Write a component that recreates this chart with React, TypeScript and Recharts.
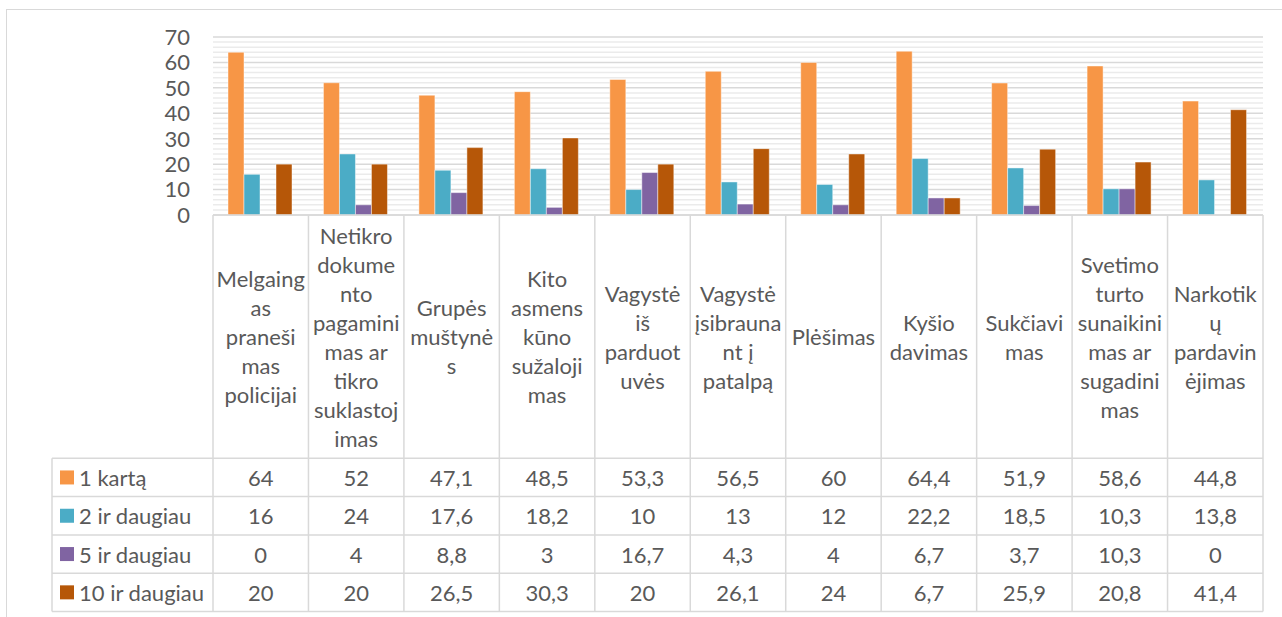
import React from "react";
import { BarChart, Bar, XAxis, YAxis, CartesianGrid } from "recharts";

// category headers, wrapped the way the original table wraps them
const categories = [
  "Melgaing\nas\npraneši\nmas\npolicijai",
  "Netikro\ndokume\nnto\npagamini\nmas ar\ntikro\nsuklastoj\nimas",
  "Grupės\nmuštynė\ns",
  "Kito\nasmens\nkūno\nsužaloji\nmas",
  "Vagystė\niš\nparduot\nuvės",
  "Vagystė\nįsibrauna\nnt į\npatalpą",
  "Plėšimas",
  "Kyšio\ndavimas",
  "Sukčiavi\nmas",
  "Svetimo\nturto\nsunaikini\nmas ar\nsugadini\nmas",
  "Narkotik\nų\npardavin\nėjimas",
];

const once = [64, 52, 47.1, 48.5, 53.3, 56.5, 60, 64.4, 51.9, 58.6, 44.8];
const twoPlus = [16, 24, 17.6, 18.2, 10, 13, 12, 22.2, 18.5, 10.3, 13.8];
const fivePlus = [0, 4, 8.8, 3, 16.7, 4.3, 4, 6.7, 3.7, 10.3, 0];
const tenPlus = [20, 20, 26.5, 30.3, 20, 26.1, 24, 6.7, 25.9, 20.8, 41.4];

const seriesNames = ["1 kartą", "2 ir daugiau", "5 ir daugiau", "10 ir daugiau"];
const seriesKeys = ["once", "twoPlus", "fivePlus", "tenPlus"];
const seriesColors = ["#F79646", "#4BACC6", "#8064A2", "#B65708"];

const yMax = 70;
const yTicks = [0, 10, 20, 30, 40, 50, 60, 70];
const yMinorTicks = [2, 4, 6, 8, 12, 14, 16, 18, 22, 24, 26, 28, 32, 34, 36, 38, 42, 44, 46, 48, 52, 54, 56, 58, 62, 64, 66, 68];

const data = categories.map((c, i) => ({
  name: c,
  once: once[i],
  twoPlus: twoPlus[i],
  fivePlus: fivePlus[i],
  tenPlus: tenPlus[i],
}));

const FONT = "Lato, 'Open Sans', sans-serif";
const TEXT = "#595959";
const LINE = "#d9d9d9";

const PLOT_LEFT = 213;
const PLOT_RIGHT = 1263;
const BAND = (PLOT_RIGHT - PLOT_LEFT) / categories.length;
const HEADER_H = 243.3;
const ROW_H = 38.3;
const LINE_H = 29;
const TABLE_LEFT = 52;
const FS = 22;

const fmt = (v: number) => String(v).replace(".", ",");

function TableColumn(props: any) {
  const { x, y, payload, index } = props;
  const i = payload?.index ?? index;
  const lines = String(payload.value).split("\n");
  const left = x - BAND / 2;
  const right = x + BAND / 2;
  const bottom = y + HEADER_H + ROW_H * 4;
  const headerMid = y + HEADER_H / 2;
  const firstLine = headerMid - ((lines.length - 1) * LINE_H) / 2;
  const values = [once[i], twoPlus[i], fivePlus[i], tenPlus[i]];

  return (
    <g>
      <line x1={left} x2={left} y1={y} y2={bottom} stroke={LINE} strokeWidth={1.5} />
      {i === categories.length - 1 && (
        <line x1={right} x2={right} y1={y} y2={bottom} stroke={LINE} strokeWidth={1.5} />
      )}
      {lines.map((l, k) => (
        <text
          key={k}
          x={x}
          y={firstLine + k * LINE_H}
          textAnchor="middle"
          dominantBaseline="central"
          fill={TEXT}
          fontSize={FS}
          fontFamily={FONT}
        >
          {l}
        </text>
      ))}
      {values.map((v, r) => (
        <text
          key={"v" + r}
          x={x}
          y={y + HEADER_H + ROW_H * r + ROW_H / 2}
          textAnchor="middle"
          dominantBaseline="central"
          fill={TEXT}
          fontSize={FS}
          fontFamily={FONT}
        >
          {fmt(v)}
        </text>
      ))}
      {i === 0 && (
        <g>
          {[0, 1, 2, 3, 4].map((r) => (
            <line
              key={"h" + r}
              x1={TABLE_LEFT}
              x2={left + BAND * categories.length}
              y1={y + HEADER_H + ROW_H * r}
              y2={y + HEADER_H + ROW_H * r}
              stroke={LINE}
              strokeWidth={1.5}
            />
          ))}
          <line x1={TABLE_LEFT} x2={TABLE_LEFT} y1={y + HEADER_H} y2={bottom} stroke={LINE} strokeWidth={1.5} />
          {seriesNames.map((n, r) => {
            const cy = y + HEADER_H + ROW_H * r + ROW_H / 2;
            return (
              <g key={"l" + r}>
                <rect x={TABLE_LEFT + 8} y={cy - 7} width={14} height={14} fill={seriesColors[r]} />
                <text
                  x={TABLE_LEFT + 27}
                  y={cy}
                  dominantBaseline="central"
                  fill={TEXT}
                  fontSize={FS}
                  fontFamily={FONT}
                >
                  {n}
                </text>
              </g>
            );
          })}
        </g>
      )}
    </g>
  );
}

export default function App() {
  return (
    <div style={{ position: "absolute", left: 0, top: 0, width: 1282, height: 617, background: "#fff", overflow: "hidden" }}>
      <div
        style={{
          position: "absolute",
          left: 6,
          top: 9,
          width: 1290,
          height: 700,
          border: `1.5px solid ${LINE}`,
          boxSizing: "border-box",
        }}
      />
      <div style={{ position: "absolute", left: 0, top: 0 }}>
        <BarChart
          width={1282}
          height={617}
          data={data}
          margin={{ top: 37, right: 1282 - PLOT_RIGHT, left: PLOT_LEFT - 60, bottom: 7 }}
          barCategoryGap={15}
          barGap={0}
          style={{ fontFamily: FONT }}
        >
          <CartesianGrid
            vertical={false}
            stroke="#ebebeb"
            strokeWidth={1.5}
            horizontalCoordinatesGenerator={(p: any) => {
              const s = p?.yAxis?.scale;
              const top = p?.offset?.top ?? 37;
              const h = p?.offset?.height ?? 178;
              return yMinorTicks.map((v) => (typeof s === "function" ? s(v) : top + h * (1 - v / yMax)));
            }}
          />
          <CartesianGrid vertical={false} stroke={LINE} strokeWidth={1.5} />
          <YAxis
            width={60}
            domain={[0, yMax]}
            ticks={yTicks}
            interval={0}
            axisLine={false}
            tickLine={false}
            tickSize={0}
            tickMargin={23}
            tick={{ fill: TEXT, fontSize: 22, fontFamily: FONT }}
          />
          <XAxis
            dataKey="name"
            height={395}
            interval={0}
            tickSize={0}
            tickMargin={0}
            tickLine={false}
            axisLine={{ stroke: LINE, strokeWidth: 1.5 }}
            tick={(p: any) => <TableColumn {...p} />}
          />
          {seriesKeys.map((k, i) => (
            <Bar
              key={k}
              dataKey={k}
              name={seriesNames[i]}
              fill={seriesColors[i]}
              stroke="#ffffff"
              strokeOpacity={0.45}
              strokeWidth={1}
              isAnimationActive={false}
            />
          ))}
        </BarChart>
      </div>
    </div>
  );
}
